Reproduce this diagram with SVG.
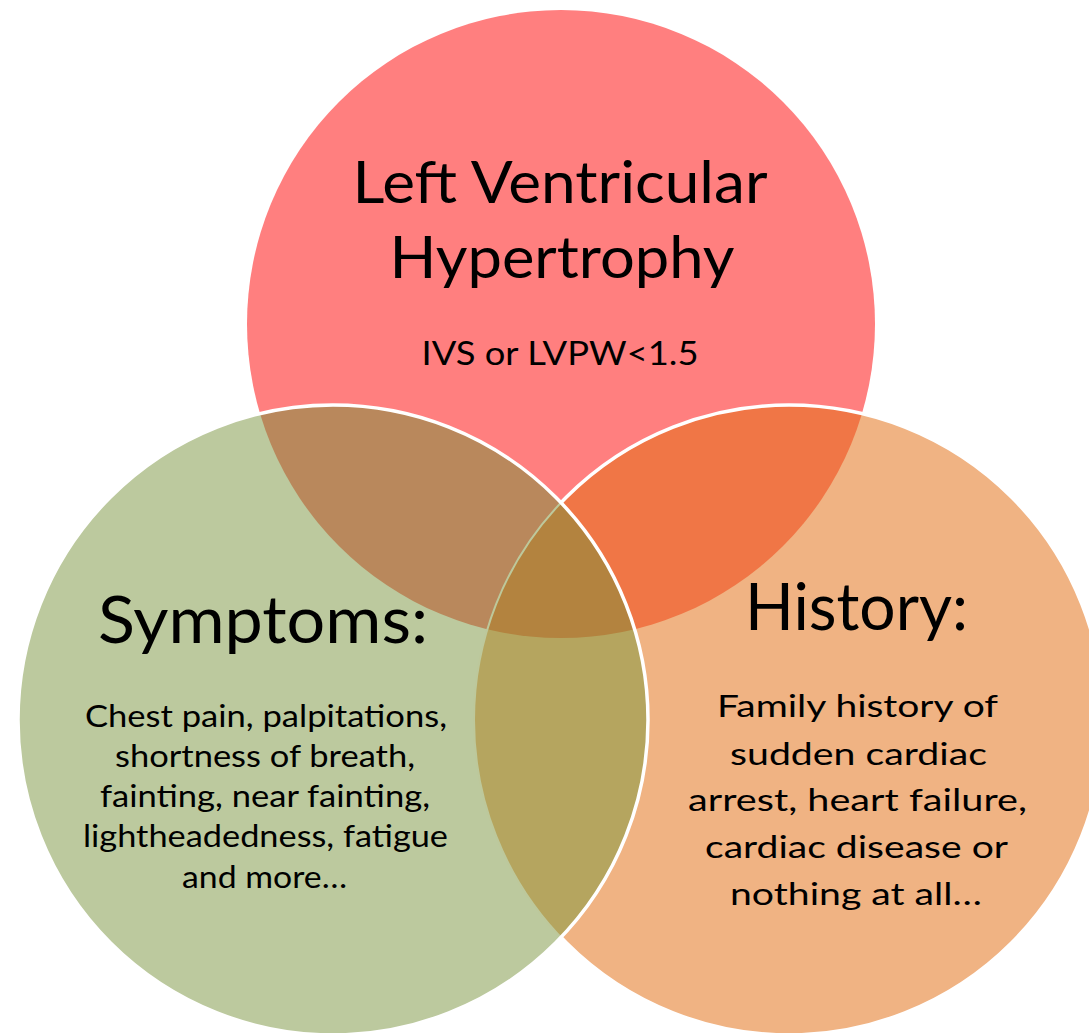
<svg xmlns="http://www.w3.org/2000/svg" width="1089" height="1033" viewBox="0 0 1089 1033">
  <style>
    .t { font-family: Lato, "Open Sans", "Liberation Sans", sans-serif; fill: #000; text-anchor: middle; }
    .h1 { font-size: 59px; }
    .h2 { font-size: 65px; }
    .b { font-size: 31px; }
    .sub { font-size: 33px; }
    .edge { fill: none; stroke: #ffffff; stroke-width: 3.5; }
  </style>
  <defs>
    <circle id="cR" cx="561" cy="324" r="314"/>
    <circle id="cG" cx="333" cy="720" r="315"/>
    <circle id="cO" cx="789" cy="720" r="315"/>
    <clipPath id="clipR"><use href="#cR"/></clipPath>
    <clipPath id="clipG"><use href="#cG"/></clipPath>
    <clipPath id="clipO"><use href="#cO"/></clipPath>
    <mask id="notG" maskUnits="userSpaceOnUse" x="0" y="0" width="1089" height="1033">
      <rect x="0" y="0" width="1089" height="1033" fill="#fff"/>
      <circle cx="333" cy="720" r="315" fill="#000"/>
    </mask>
  </defs>

  <rect x="0" y="0" width="1089" height="1033" fill="#ffffff"/>

  <!-- base circles -->
  <g id="lvh-shape"><use href="#cR" fill="#FF7F7F"/></g>
  <g id="history-shape"><use href="#cO" fill="#F0B383"/></g>
  <g id="symptoms-shape"><use href="#cG" fill="#BCC99E"/></g>

  <!-- overlaps -->
  <g id="overlaps">
    <use href="#cO" fill="#F07646" clip-path="url(#clipR)"/>
    <use href="#cG" fill="#B9885C" clip-path="url(#clipR)"/>
    <use href="#cG" fill="#B5A55F" clip-path="url(#clipO)"/>
    <g clip-path="url(#clipR)">
      <use href="#cG" fill="#B3833F" clip-path="url(#clipO)"/>
    </g>
  </g>

  <!-- edges -->
  <g id="edges">
    <use href="#cO" fill="none" stroke="#BDC89B" stroke-width="2" clip-path="url(#clipG)"/>
    <use href="#cO" class="edge" mask="url(#notG)"/>
    <use href="#cG" class="edge"/>
  </g>

  <!-- labels -->
  <g id="lvh">
    <text class="t h1" x="560" y="203" textLength="415" lengthAdjust="spacingAndGlyphs">Left Ventricular</text>
    <text class="t h1" x="562" y="278" textLength="345" lengthAdjust="spacingAndGlyphs">Hypertrophy</text>
    <text class="t sub" x="560" y="365" textLength="277" lengthAdjust="spacingAndGlyphs">IVS or LVPW&lt;1.5</text>
  </g>
  <g id="symptoms">
    <text class="t h2" x="263" y="643" textLength="330" lengthAdjust="spacingAndGlyphs">Symptoms:</text>
    <text class="t b" x="266" y="727" textLength="362" lengthAdjust="spacingAndGlyphs">Chest pain, palpitations,</text>
    <text class="t b" x="265" y="767" textLength="300" lengthAdjust="spacingAndGlyphs">shortness of breath,</text>
    <text class="t b" x="265" y="807" textLength="330" lengthAdjust="spacingAndGlyphs">fainting, near fainting,</text>
    <text class="t b" x="265.5" y="847" textLength="365" lengthAdjust="spacingAndGlyphs">lightheadedness, fatigue</text>
    <text class="t b" x="264.5" y="888" textLength="165" lengthAdjust="spacingAndGlyphs">and more…</text>
  </g>
  <g id="history">
    <text class="t h2" x="856.5" y="630" textLength="223" lengthAdjust="spacingAndGlyphs">History:</text>
    <text class="t b" x="857.5" y="717" textLength="281" lengthAdjust="spacingAndGlyphs">Family history of</text>
    <text class="t b" x="858.5" y="765" textLength="257" lengthAdjust="spacingAndGlyphs">sudden cardiac</text>
    <text class="t b" x="857.5" y="811" textLength="339" lengthAdjust="spacingAndGlyphs">arrest, heart failure,</text>
    <text class="t b" x="856.5" y="858" textLength="303" lengthAdjust="spacingAndGlyphs">cardiac disease or</text>
    <text class="t b" x="856" y="905" textLength="252" lengthAdjust="spacingAndGlyphs">nothing at all…</text>
  </g>
</svg>
